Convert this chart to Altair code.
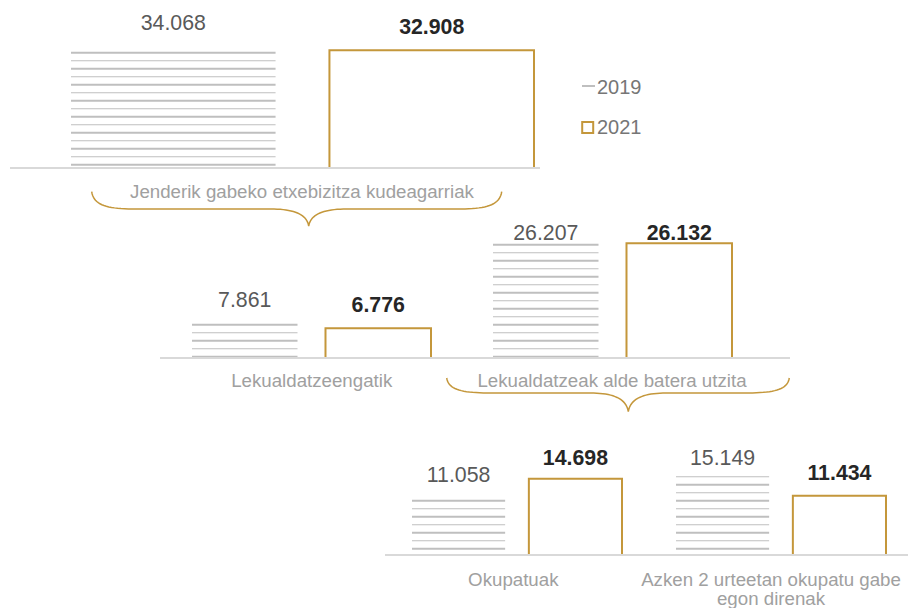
import altair as alt
import pandas as pd

# ---------------- data ----------------
years = ["2019", "2021"]
group_names = [
    "Jenderik gabeko etxebizitza kudeagarriak",
    "Lekualdatzeengatik",
    "Lekualdatzeak alde batera utzita",
    "Okupatuak",
    "Azken 2 urteetan okupatu gabe egon direnak",
]
group_label_lines = [
    ["Jenderik gabeko etxebizitza kudeagarriak"],
    ["Lekualdatzeengatik"],
    ["Lekualdatzeak alde batera utzita"],
    ["Okupatuak"],
    ["Azken 2 urteetan okupatu gabe", "egon direnak"],
]
values_2019 = [34068, 7861, 26207, 11058, 15149]
values_2021 = [32908, 6776, 26132, 14698, 11434]
labels_2019 = ["34.068", "7.861", "26.207", "11.058", "15.149"]
labels_2021 = ["32.908", "6.776", "26.132", "14.698", "11.434"]

# ---------------- layout / style ----------------
FONT = "Liberation Sans, Arial, sans-serif"
GOLD = "#C4973B"
HATCH = "#BFBFBF"
BASE_COLOR = "#D9D9D9"

panel_of_group = [0, 1, 1, 2, 2]
PANEL_BASE = [160, 350, 547]            # baseline pixel (chart coords)
PANEL_K = [0.003577, 0.00439, 0.00519]  # pixels per unit
PANEL_LABEL_TOP = [0, 225.5, 450.5]     # highest allowed label centre
PANEL_RULE_X = [(2, 532), (152, 782), (377, 900)]
GROUP_X_RANGE = [(63, 526), (184, 423), (485, 724), (404, 614), (668, 878)]
GROUP_PAD = [0.2085, 0.2097, 0.2097, 0.203, 0.203]
GROUP_LABEL_POS = [(294, 183.5), (303.7, 373), (604, 373), (505.3, 572), (763, 572)]
LINE_H = 19
BRACES = [  # xL, xR, xTip, yTop, yMid, yBottom
    (83.7, 493.7, 300.7, 183.7, 201, 218),
    (438.7, 781.3, 620.3, 370, 385, 403.7),
]

layers = []

for g in range(len(group_names)):
    p = panel_of_group[g]
    base, k = PANEL_BASE[p], PANEL_K[p]
    yscale = alt.Scale(domain=[0, base / k], range=[base, 0], nice=False, zero=True)
    r0, r1 = GROUP_X_RANGE[g]
    xscale = alt.Scale(type="band", domain=years, range=[r0, r1],
                       paddingInner=GROUP_PAD[g], paddingOuter=0)
    X = alt.X("year:N", scale=xscale, axis=None)

    # 2021 outlined bar
    d21 = pd.DataFrame({"year": ["2021"], "value": [values_2021[g]]})
    layers.append(
        alt.Chart(d21).mark_bar(fill="white", stroke=GOLD, strokeWidth=2)
        .encode(x=X, y=alt.Y("value:Q", scale=yscale, axis=None))
    )

    # 2019 hatched bar (horizontal line texture on a fixed pixel grid)
    top = base - values_2019[g] * k
    rows = []
    m = int((top - 44.7) // 8) - 1
    while True:
        c = 44.7 + 8 * m
        if c > base - 1:
            break
        if c >= top:
            t = 2.0 if m % 2 == 0 else 1.0
            rows.append({"year": "2019",
                         "y1": (base - (c - t / 2)) / k,
                         "y2": (base - (c + t / 2)) / k})
        m += 1
    layers.append(
        alt.Chart(pd.DataFrame(rows)).mark_bar(color=HATCH)
        .encode(x=X, y=alt.Y("y1:Q", scale=yscale, axis=None), y2="y2:Q")
    )

    # value labels
    def label_val(v):
        ypx = max(base - v * k - 22, PANEL_LABEL_TOP[p])
        return (base - ypx) / k

    dl19 = pd.DataFrame({"year": ["2019"], "lab": [labels_2019[g]],
                         "ly": [label_val(values_2019[g])]})
    dl21 = pd.DataFrame({"year": ["2021"], "lab": [labels_2021[g]],
                         "ly": [label_val(values_2021[g])]})
    layers.append(
        alt.Chart(dl19).mark_text(font=FONT, fontSize=21.3, color="#595959",
                                  baseline="middle", align="center")
        .encode(x=X, y=alt.Y("ly:Q", scale=yscale, axis=None), text="lab:N")
    )
    layers.append(
        alt.Chart(dl21).mark_text(font=FONT, fontSize=21.3, fontWeight="bold",
                                  color="#262626", baseline="middle", align="center")
        .encode(x=X, y=alt.Y("ly:Q", scale=yscale, axis=None), text="lab:N")
    )

# baselines
for p in range(3):
    base, k = PANEL_BASE[p], PANEL_K[p]
    yscale = alt.Scale(domain=[0, base / k], range=[base, 0], nice=False, zero=True)
    x0, x1 = PANEL_RULE_X[p]
    layers.append(
        alt.Chart(pd.DataFrame({"v": [0]})).mark_rule(color=BASE_COLOR, strokeWidth=2)
        .encode(x=alt.value(x0), x2=alt.value(x1),
                y=alt.Y("v:Q", scale=yscale, axis=None))
    )

# category labels
cat_rows = []
for g, lines in enumerate(group_label_lines):
    cx, cy = GROUP_LABEL_POS[g]
    for i, line in enumerate(lines):
        cat_rows.append({"txt": line, "px": cx, "py": cy + i * LINE_H})
layers.append(
    alt.Chart(pd.DataFrame(cat_rows)).mark_text(font=FONT, fontSize=18.7, color="#A0A0A0",
                                                baseline="middle", align="center")
    .encode(x=alt.X("px:Q", scale=None), y=alt.Y("py:Q", scale=None), text="txt:N")
)


# braces
def cubic(p0, p1, p2, p3, n=20):
    pts = []
    for i in range(n + 1):
        t = i / n
        a = (1 - t) ** 3
        b = 3 * (1 - t) ** 2 * t
        c = 3 * (1 - t) * t ** 2
        d = t ** 3
        pts.append((a * p0[0] + b * p1[0] + c * p2[0] + d * p3[0],
                    a * p0[1] + b * p1[1] + c * p2[1] + d * p3[1]))
    return pts


brace_rows = []
for bi, (xL, xR, xT, yT, yM, yB) in enumerate(BRACES):
    re_, rm = 45, 38
    pts = []
    pts += cubic((xL, yT), (xL + 2, yT + (yM - yT) * 0.8), (xL + re_ * 0.35, yM), (xL + re_, yM))
    pts += cubic((xT - rm, yM), (xT - rm * 0.4, yM), (xT - 2, yM + (yB - yM) * 0.3), (xT, yB))
    pts += cubic((xT, yB), (xT + 2, yM + (yB - yM) * 0.3), (xT + rm * 0.4, yM), (xT + rm, yM))
    pts += cubic((xR - re_, yM), (xR - re_ * 0.35, yM), (xR - 2, yT + (yM - yT) * 0.8), (xR, yT))
    for i, (px, py) in enumerate(pts):
        brace_rows.append({"b": bi, "i": i, "px": px, "py": py})
layers.append(
    alt.Chart(pd.DataFrame(brace_rows)).mark_line(color=GOLD, strokeWidth=1.5)
    .encode(x=alt.X("px:Q", scale=None), y=alt.Y("py:Q", scale=None),
            detail="b:N", order="i:Q")
)

# legend
leg_scale = alt.Scale(type="point", domain=years, range=[79.5, 119.5], padding=0)
leg = pd.DataFrame({"year": years})
LY = alt.Y("year:N", scale=leg_scale, axis=None)
layers.append(
    alt.Chart(leg).transform_filter(alt.datum.year == "2019")
    .mark_rule(color=HATCH, strokeWidth=2, yOffset=-1.5)
    .encode(x=alt.value(574), x2=alt.value(587), y=LY)
)
layers.append(
    alt.Chart(leg).transform_filter(alt.datum.year == "2021")
    .mark_point(shape="square", filled=False, stroke=GOLD, strokeWidth=2, size=121, opacity=1)
    .encode(x=alt.value(579.7), y=LY)
)
layers.append(
    alt.Chart(leg).mark_text(font=FONT, fontSize=20, color="#767676",
                             baseline="middle", align="left")
    .encode(x=alt.value(589), y=LY, text="year:N")
)

chart = (
    alt.layer(*layers)
    .resolve_scale(x="independent", y="independent")
    .properties(width=900, height=600, autosize=alt.AutoSizeParams(type="none"), padding=0)
    .configure_view(stroke=None)
)

chart.save("out.html", embed_options={"renderer": "svg", "actions": False})
